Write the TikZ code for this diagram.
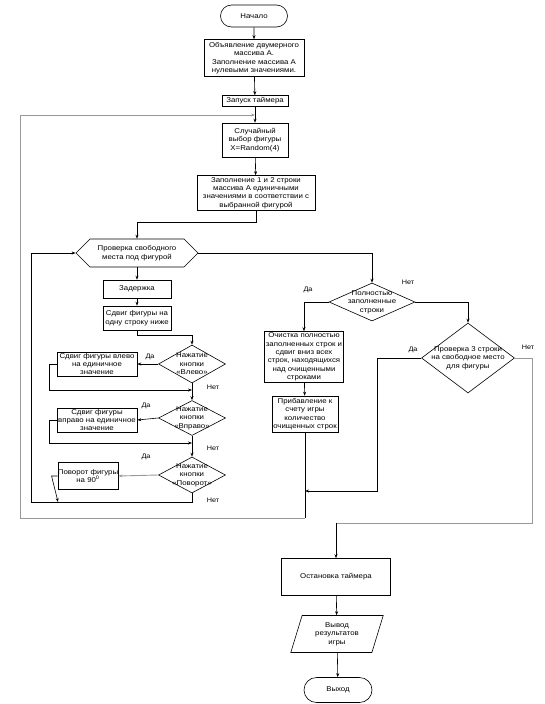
\documentclass[tikz,border=0pt]{standalone}
\usepackage{fontspec}
\setmainfont{Liberation Sans}[FakeStretch=1.12]
\usetikzlibrary{shapes.geometric,shapes.misc,shapes.symbols,arrows.meta}

\tikzset{
  blok/.style={draw, rectangle, align=center, inner sep=0pt},
  nach/.style={draw, rounded rectangle, inner sep=0pt},
  romb/.style={draw, diamond, inner sep=0pt},
  sery/.style={draw=black!40, line width=0.9pt},
  otv/.style={font=\fontsize{6.5}{7}\selectfont},
}

\begin{document}
\begin{tikzpicture}[x=1pt, y=-1pt, line width=0.6pt, >={Stealth[length=4pt,width=3pt]},
    font=\fontsize{7}{8.4}\selectfont]
  \useasboundingbox (0,0) rectangle (544,704);

  % Начало и подготовка
  \node[nach, minimum width=67pt, minimum height=22pt] (start) at (254,16) {Начало};
  \node[blok, minimum width=100pt, minimum height=37pt] (decl) at (254,58) {Объявление двумерного\\массива А.\\Заполнение  массива А\\нулевыми значениями.};
  \node[blok, minimum width=66pt, minimum height=11pt] (timer) at (255,101) {Запуск таймера};
  \node[blok, minimum width=66pt, minimum height=34pt] (rand) at (255,140) {Случайный\\выбор фигуры\\X=Random(4)};
  \node[blok, minimum width=118pt, minimum height=35pt] (fill) at (256,193) {Заполнение 1 и 2 строки\\массива А единичными\\значениями в соответствии с\\выбранной фигурой};

  % Цикл падения фигуры
  \node[draw, signal, signal to=west and east, signal pointer angle=90, inner sep=0pt,
        minimum width=122pt, minimum height=28pt,
        label={[align=center]center:Проверка свободного\\места под фигурой}] (hex) at (137,253) {};
  \node[blok, minimum width=68pt, minimum height=18pt] (delay) at (137,289) {Задержка};
  \node[blok, minimum width=68pt, minimum height=24pt] (shift) at (137,318) {Сдвиг фигуры на\\одну строку ниже};

  % Кнопки
  \node[romb, minimum width=67pt, minimum height=38pt, label={[align=center]center:Нажатие\\кнопки\\«Влево»}] (dL) at (192,364) {};
  \node[blok, minimum width=80pt, minimum height=24pt] (bL) at (97,364) {Сдвиг фигуры влево\\на единичное\\значение};
  \node[romb, minimum width=67pt, minimum height=35pt, label={[align=center]center:Нажатие\\кнопки\\«Вправо»}] (dR) at (192,418) {};
  \node[blok, minimum width=80pt, minimum height=24pt] (bR) at (97,420) {Сдвиг фигуры\\вправо на единичное\\значение};
  \node[romb, minimum width=67pt, minimum height=36pt, label={[align=center]center:Нажатие\\кнопки\\«Поворот»}] (dT) at (192,475) {};
  \node[blok, minimum width=47pt, minimum height=27pt] (bT) at (88,476) {Поворот фигуры\\на 90\textsuperscript{0}};

  % Заполненные строки
  \node[romb, minimum width=86pt, minimum height=38pt, label={[align=center]center:Полностью\\заполненные\\строки}] (dFull) at (372,302) {};
  \node[blok, minimum width=79pt, minimum height=51pt] (clear) at (304,357) {Очистка полностью\\заполненных строк и\\сдвиг вниз всех\\строк, находящихся\\над очищенными\\строками};
  \node[blok, minimum width=66pt, minimum height=36pt] (score) at (305,414) {Прибавление к\\счету игры\\количество\\очищенных строк};
  \node[romb, minimum width=93pt, minimum height=70pt, label={[align=center]center:Проверка 3 строки\\на свободное место\\для фигуры}] (d3) at (468,358) {};

  % Конец игры
  \node[blok, minimum width=109pt, minimum height=37pt] (stop) at (336,577) {Остановка таймера};
  \node[draw, trapezium, trapezium left angle=73, trapezium right angle=107, inner sep=0pt,
        minimum width=89pt, minimum height=37pt, align=center] (out) at (337,634) {Вывод\\результатов\\игры};
  \node[nach, minimum width=68pt, minimum height=25pt] (exit) at (338,690) {Выход};

  % Да / Нет
  \node[otv] (daL) at (150,357) {Да};
  \node[otv] (netL) at (213,387) {Нет};
  \node[otv] (daR) at (146,406) {Да};
  \node[otv] (netR) at (213,448) {Нет};
  \node[otv] (daT) at (146,457) {Да};
  \node[otv] (netT) at (213,500) {Нет};
  \node[otv] (daFull) at (308,290) {Да};
  \node[otv] (netFull) at (408,282) {Нет};
  \node[otv] (da3) at (413,350) {Да};
  \node[otv] (net3) at (528,347) {Нет};

  % Точки слияния
  \coordinate (j0) at (255,115);
  \coordinate (jL) at (192,390);
  \coordinate (jR) at (192,443);
  \coordinate (jT) at (58,502);
  \coordinate (j3) at (305,491);
  \coordinate (c1) at (305,518);
  \coordinate (c2) at (336,523);

  % Стрелки
  \draw[->] (start) -- (decl);
  \draw[->] (decl) -- (timer);
  \draw[->] (timer) -- (rand);
  \draw[->] (rand) -- (fill);
  \draw[->] (fill.south) -- ++(0,11) -| (hex.north);
  \draw[->] (hex) -- (delay);
  \draw[->] (delay) -- (shift);
  \draw[->] (shift.south) -- ++(0,5) -| (dL.north);

  \draw[->] (dL.west) -- (bL.east);
  \draw[->] (bL.west) -- ++(-7,0) |- (jL);
  \draw[->] (dL.south) -- (dR.north);
  \draw[->] (dR.west) -- (bR.east);
  \draw[->] (bR.west) -- ++(-7,0) |- (jR);
  \draw[->] (dR.south) -- (dT.north);
  \draw[sery, ->] (dT.west) -- (bT.east);
  \draw[->] (bT.west) -- ++(-6,0) -- (jT);
  \draw[->] (dT.south) |- (31,502) -- (31,253) -- (hex.west);

  \draw[->] (hex.east) -| (dFull.north);
  \draw[->] (dFull.west) -| (clear.north);
  \draw[->] (dFull.east) -| (d3.north);
  \draw[->] (clear) -- (score);
  \draw (score.south) -- (c1);
  \draw[sery, ->] (c1) -- (20,518) -- (20,115) -- (j0);
  \draw[->] (d3.west) -- (377,358) |- (j3);
  \draw[sery] (d3.east) -- (532,358) |- (c2);
  \draw[->] (c2) -- (stop.north);
  \draw[->] (stop) -- (out);
  \draw[->] (out) -- (exit);
\end{tikzpicture}
\end{document}
